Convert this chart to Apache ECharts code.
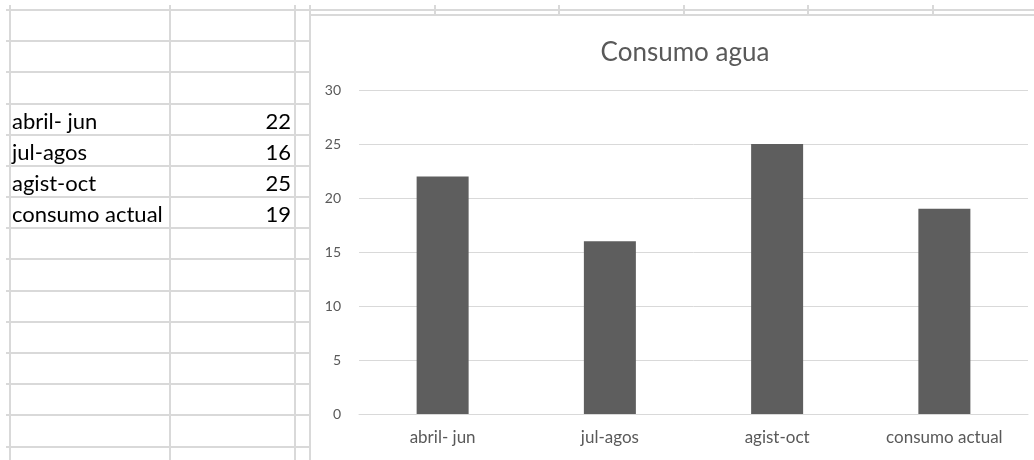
<!DOCTYPE html>
<html>
<head>
<meta charset="utf-8">
<script src="https://cdn.jsdelivr.net/npm/echarts@6/dist/echarts.min.js"></script>
<style>
html,body{margin:0;padding:0;background:#fff;}
#c{width:1034px;height:460px;}
</style>
</head>
<body>
<div id="c"></div>
<script>
// Data
const categories = ['abril- jun', 'jul-agos', 'agist-oct', 'consumo actual'];
const values = [22, 16, 25, 19];
const chartTitle = 'Consumo agua';
const yTicks = [0, 5, 10, 15, 20, 25, 30];
const firstDataRow = 3; // sheet row index where data starts

const chart = echarts.init(document.getElementById('c'), null, {renderer: 'canvas'});

// spreadsheet grid geometry
const rowLines = [10, 41, 72, 104, 135, 166, 197, 228, 259, 291, 322, 353, 384, 415, 447];
const colLines = [10, 170, 295, 310];
const topTicks = [435, 559, 684, 808, 933];
const gridColor = '#d9d9d9';

const graphics = [];
rowLines.forEach(y => {
  graphics.push({type: 'line', shape: {x1: 6, y1: y, x2: 310, y2: y}, style: {stroke: gridColor, lineWidth: 2}, silent: true});
});
colLines.forEach(x => {
  graphics.push({type: 'line', shape: {x1: x, y1: 5, x2: x, y2: 460}, style: {stroke: gridColor, lineWidth: 2}, silent: true});
});
graphics.push({type: 'line', shape: {x1: 310, y1: 10, x2: 1034, y2: 10}, style: {stroke: gridColor, lineWidth: 2}, silent: true});
graphics.push({type: 'line', shape: {x1: 310, y1: 15, x2: 1034, y2: 15}, style: {stroke: gridColor, lineWidth: 2}, silent: true});
topTicks.forEach(x => {
  graphics.push({type: 'line', shape: {x1: x, y1: 5, x2: x, y2: 15}, style: {stroke: gridColor, lineWidth: 2}, silent: true});
});
// sheet text
categories.forEach((c, i) => {
  const top = rowLines[firstDataRow + i];
  const bot = rowLines[firstDataRow + i + 1];
  const cy = (top + bot) / 2 + 2;
  graphics.push({type: 'text', x: 12, y: cy, style: {text: c, font: '22px Lato', fill: '#000', textAlign: 'left', textVerticalAlign: 'middle'}, silent: true});
  graphics.push({type: 'text', x: 291, y: cy, style: {text: String(values[i]), font: '22px Lato', fill: '#000', textAlign: 'right', textVerticalAlign: 'middle'}, silent: true});
});

chart.setOption({
  animation: false,
  backgroundColor: '#fff',
  title: {
    text: chartTitle,
    left: 680,
    top: 35,
    textAlign: 'center',
    textStyle: {fontFamily: 'Lato', fontSize: 26, fontWeight: 'normal', color: '#595959'}
  },
  grid: {left: 359, right: 6, top: 90, bottom: 46, containLabel: false},
  xAxis: {
    type: 'category',
    data: categories,
    axisLine: {show: true, lineStyle: {color: gridColor, width: 1}},
    axisTick: {show: false},
    axisLabel: {color: '#595959', fontFamily: 'Lato', fontSize: 17, margin: 15}
  },
  yAxis: {
    type: 'value',
    min: yTicks[0],
    max: yTicks[yTicks.length - 1],
    interval: yTicks[1] - yTicks[0],
    axisLine: {show: false},
    axisTick: {show: false},
    splitLine: {lineStyle: {color: gridColor, width: 1}},
    axisLabel: {color: '#595959', fontFamily: 'Lato', fontSize: 14, margin: 18}
  },
  series: [{
    type: 'bar',
    data: values,
    barWidth: 52,
    itemStyle: {color: '#5e5e5e'}
  }],
  graphic: graphics
});
</script>
</body>
</html>
